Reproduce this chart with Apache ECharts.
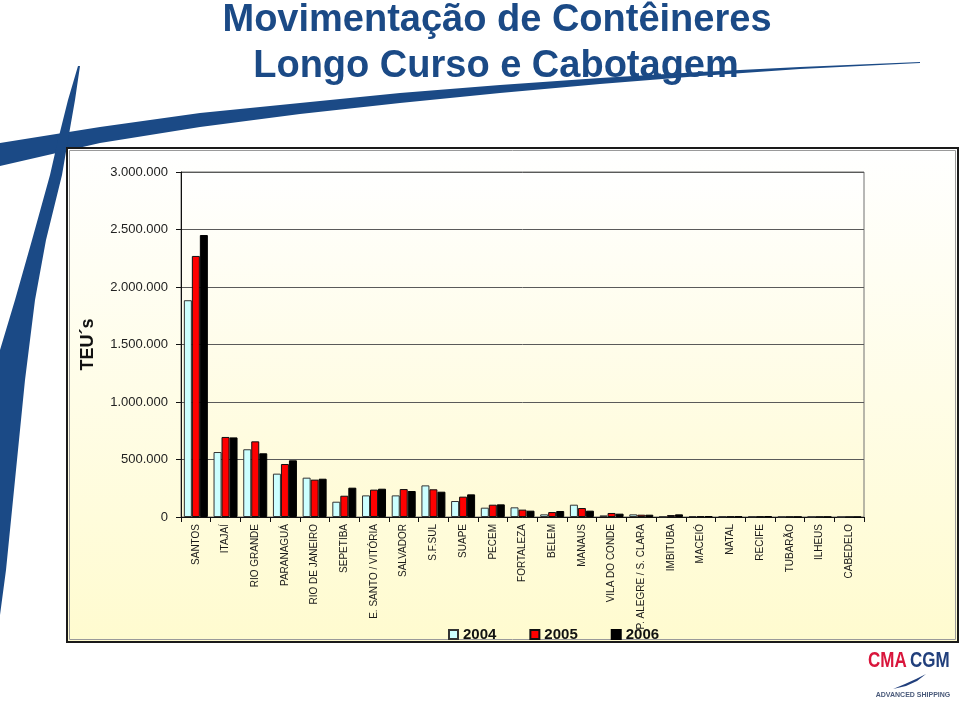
<!DOCTYPE html>
<html>
<head>
<meta charset="utf-8">
<script src="https://cdn.jsdelivr.net/npm/echarts@6/dist/echarts.min.js"></script>
<style>
html,body{margin:0;padding:0;background:#fff;}
#chart{width:960px;height:709px;}
</style>
</head>
<body>
<div id="chart"></div>
<script>
var titleLine1 = 'Movimentação de Contêineres';
var titleLine2 = 'Longo Curso e Cabotagem';
var yAxisName = 'TEU´s';
var categories = ['SANTOS','ITAJAÍ','RIO GRANDE','PARANAGUÁ','RIO DE JANEIRO','SEPETIBA','E. SANTO / VITÓRIA','SALVADOR','S.F.SUL','SUAPE','PECEM','FORTALEZA','BELEM','MANAUS','VILA DO CONDE','P. ALEGRE / S. CLARA','IMBITUBA','MACEIÓ','NATAL','RECIFE','TUBARÃO','ILHEUS','CABEDELO'];
var seriesNames = ['2004','2005','2006'];
var v2004 = [1885000,565000,589000,377000,342000,133000,188000,188000,275000,139000,81000,84000,23000,107000,14000,23000,3000,8000,5000,4000,2000,2000,1000];
var v2005 = [2270000,696000,658000,461000,325000,185000,238000,243000,241000,177000,107000,64000,43000,78000,35000,20000,17000,8000,5000,5000,2000,2000,1000];
var v2006 = [2452000,692000,554000,493000,333000,255000,246000,226000,220000,197000,110000,55000,52000,55000,29000,20000,23000,8000,5000,8000,2000,2000,1000];
var yTicks = [0,500000,1000000,1500000,2000000,2500000,3000000];

function fmt(v){ return String(v).replace(/\B(?=(\d{3})+(?!\d))/g,'.'); }

var chart = echarts.init(document.getElementById('chart'), null, {renderer:'canvas'});
var blue = '#1b4a86';
var FONT = 'Liberation Sans, Arial, sans-serif';

var option = {
  animation:false,
  backgroundColor:'#ffffff',
  textStyle:{fontFamily:FONT},
  graphic:[
    // slide decoration swooshes
    {type:'polygon', z:-20, shape:{points:[[0,143],[100,127],[200,113],[300,103],[400,93],[500,85],[600,78],[700,72],[800,67],[920,62],[920,63],[800,69],[700,76],[600,84],[500,93],[400,103],[300,114],[200,127],[100,143],[0,166]]}, style:{fill:blue}},
    {type:'polygon', z:-20, shape:{points:[[78,66],[80,66],[75,100],[68,140],[62,175],[46,240],[35,300],[25,380],[15,480],[6,570],[0,615],[0,350],[15,300],[32,240],[50,175],[58,140],[68,100]]}, style:{fill:blue}},
    // frame
    {type:'rect', z:-10, shape:{x:67,y:148,width:891,height:494}, style:{fill:new echarts.graphic.LinearGradient(0,0,0,1,[{offset:0,color:'#ffffff'},{offset:1,color:'#fffbcf'}]), stroke:'#1a1a1a', lineWidth:2}},
    {type:'rect', z:-9, shape:{x:69.5,y:150.5,width:886,height:489}, style:{fill:null, stroke:'#9a9a9a', lineWidth:1}},
    // title
    {type:'text', z:20, x:497, y:21, style:{text:titleLine1, font:'bold 38px '+FONT, fill:blue, align:'center', verticalAlign:'middle'}},
    {type:'text', z:20, x:496, y:67, style:{text:titleLine2, font:'bold 38px '+FONT, fill:blue, align:'center', verticalAlign:'middle'}},
    // logo
    {type:'text', z:20, x:868, y:661, scaleY:1.35, originX:0, originY:0, style:{text:'CMA', font:'bold 17px '+FONT, fill:'#d9163c', verticalAlign:'middle'}},
    {type:'text', z:20, x:910, y:661, scaleY:1.35, originX:0, originY:0, style:{text:'CGM', font:'bold 17px '+FONT, fill:'#213f7c', verticalAlign:'middle'}},
    {type:'polygon', z:20, shape:{points:[[893,689],[905,684],[916,679],[926,674],[917,681],[906,686]]}, style:{fill:'#213f7c'}},
    {type:'text', z:20, x:913, y:695, style:{text:'ADVANCED SHIPPING', font:'bold 7px '+FONT, fill:'#4a5a7a', align:'center', verticalAlign:'middle'}}
  ],
  grid:{left:181, right:96, top:172, bottom:192, show:true, borderColor:'#707070', borderWidth:1,
        backgroundColor:new echarts.graphic.LinearGradient(0,0,0,1,[{offset:0,color:'#ffffff'},{offset:1,color:'#fffbd6'}])},
  legend:{
    data:seriesNames, left:443, top:622, itemWidth:9, itemHeight:9, itemGap:33, icon:'rect',
    textStyle:{fontSize:15, fontWeight:'bold', color:'#111', fontFamily:FONT}
  },
  xAxis:{
    type:'category', data:categories,
    axisLine:{show:true, lineStyle:{color:'#111', width:1}},
    axisTick:{show:true, length:5, lineStyle:{color:'#111'}},
    axisLabel:{rotate:90, interval:0, fontSize:10, color:'#1a1a1a', margin:7, fontFamily:FONT}
  },
  yAxis:{
    type:'value', min:0, max:3000000, interval:500000,
    name:yAxisName, nameLocation:'middle', nameGap:84, nameRotate:90,
    nameTextStyle:{fontSize:18, fontWeight:'bold', color:'#111', fontFamily:FONT},
    axisLine:{show:true, lineStyle:{color:'#111', width:1}},
    axisTick:{show:true, length:5, lineStyle:{color:'#111'}},
    axisLabel:{fontSize:13, color:'#222', margin:13, formatter:function(v){return fmt(v);}, fontFamily:FONT},
    splitLine:{show:true, lineStyle:{color:'#5a5a5a', width:1}}
  },
  series:[
    {name:seriesNames[0], type:'bar', data:v2004, barWidth:8, barGap:'0%', itemStyle:{color:'#ccffff', borderColor:'#333', borderWidth:1}},
    {name:seriesNames[1], type:'bar', data:v2005, barWidth:8, barGap:'0%', itemStyle:{color:'#ff0000', borderColor:'#111', borderWidth:1}},
    {name:seriesNames[2], type:'bar', data:v2006, barWidth:8, barGap:'0%', itemStyle:{color:'#000000', borderColor:'#000', borderWidth:1}}
  ]
};
chart.setOption(option);
</script>
</body>
</html>
